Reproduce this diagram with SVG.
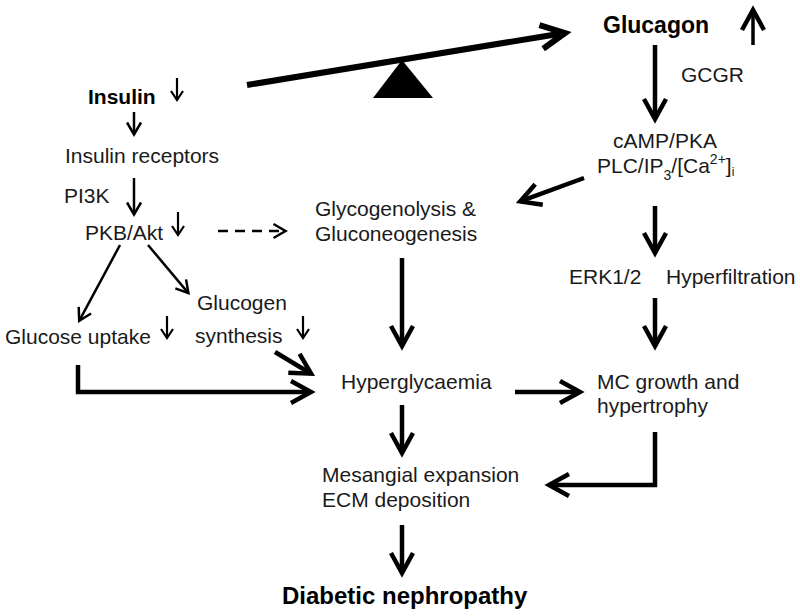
<svg xmlns="http://www.w3.org/2000/svg" width="800" height="616" viewBox="0 0 800 616">
<style>
text{font-family:"Liberation Sans",Arial,Helvetica,sans-serif;font-size:21px;fill:#1a1a1a}
.b{font-weight:bold;fill:#000}
.thick{stroke:#000;stroke-width:4.5;fill:none;marker-end:url(#aBig)}
.med{stroke:#000;stroke-width:2.5;fill:none;marker-end:url(#aMed)}
.thin{stroke:#000;stroke-width:2.2;fill:none;marker-end:url(#aSm)}
</style>
<defs>
<marker id="aBig" markerUnits="userSpaceOnUse" viewBox="-30 -20 40 40" markerWidth="40" markerHeight="40" refX="0" refY="0" orient="auto">
<path d="M-20,-11 L0,0 L-20,11" fill="none" stroke="#000" stroke-width="4.5" stroke-linejoin="miter" stroke-miterlimit="10"/>
</marker>
<marker id="aMed" markerUnits="userSpaceOnUse" viewBox="-20 -15 30 30" markerWidth="30" markerHeight="30" refX="0" refY="0" orient="auto">
<path d="M-12,-7 L0,0 L-12,7" fill="none" stroke="#000" stroke-width="2.5" stroke-linejoin="miter" stroke-miterlimit="10"/>
</marker>
<marker id="aSm" markerUnits="userSpaceOnUse" viewBox="-20 -15 30 30" markerWidth="30" markerHeight="30" refX="0" refY="0" orient="auto">
<path d="M-9,-6 L0,0 L-9,6" fill="none" stroke="#000" stroke-width="2.2" stroke-linejoin="miter" stroke-miterlimit="10"/>
</marker>
</defs>
<rect width="800" height="616" fill="#fff"/>

<g id="seesaw">
<line x1="247" y1="85" x2="563" y2="33.2" stroke="#000" stroke-width="6"/>
<polyline points="539.4,25.1 565,33 543.2,48.7" fill="none" stroke="#000" stroke-width="6" stroke-miterlimit="10"/>
<polygon points="402,60 373,98 433,98" fill="#000"/>
</g>

<g id="insulin"><text class="b" x="88" y="104">Insulin</text></g>
<g id="glucagon"><text class="b" x="603" y="33" style="font-size:23px">Glucagon</text></g>
<g id="gcgr"><text x="681" y="82">GCGR</text></g>
<g id="insulin-receptors"><text x="65" y="163">Insulin receptors</text></g>
<g id="pi3k"><text x="64" y="203">PI3K</text></g>
<g id="pkb-akt"><text x="85" y="240">PKB/Akt</text></g>
<g id="glycogenolysis"><text x="315" y="216">Glycogenolysis &amp;</text><text x="315" y="241">Gluconeogenesis</text></g>
<g id="camp"><text x="665" y="148" text-anchor="middle">cAMP/PKA</text><text x="597" y="173">PLC/IP<tspan style="font-size:14px" dy="7">3</tspan><tspan dy="-7">/[Ca</tspan><tspan style="font-size:14px" dy="-9">2+</tspan><tspan dy="9">]</tspan><tspan style="font-size:12px" dy="3">i</tspan></text></g>
<g id="erk"><text x="569" y="284">ERK1/2</text></g>
<g id="hyperfiltration"><text x="666" y="284">Hyperfiltration</text></g>
<g id="glucose-uptake"><text x="5" y="344">Glucose uptake</text></g>
<g id="glucogen-synthesis"><text x="197" y="310">Glucogen</text><text x="195" y="343">synthesis</text></g>
<g id="hyperglycaemia"><text x="341" y="389">Hyperglycaemia</text></g>
<g id="mc-growth"><text x="597" y="389">MC growth and</text><text x="597" y="413">hypertrophy</text></g>
<g id="mesangial"><text x="322" y="482">Mesangial expansion</text><text x="322" y="507">ECM deposition</text></g>
<g id="diabetic-nephropathy"><text class="b" x="282" y="604" style="font-size:24px">Diabetic nephropathy</text></g>

<g id="connectors">
<line class="thick" x1="655" y1="45" x2="655" y2="119"/>
<line class="thick" x1="753" y1="45" x2="753" y2="10" style="stroke-width:3.5"/>
<line class="thick" x1="584" y1="178" x2="520.2" y2="201.4"/>
<line class="thick" x1="655" y1="206" x2="655" y2="253"/>
<line class="thick" x1="655" y1="298" x2="655" y2="346"/>
<line class="thick" x1="402" y1="258" x2="402" y2="346"/>
<line class="thick" x1="515" y1="392" x2="580" y2="392"/>
<path class="thick" d="M655,432 V485 H549"/>
<line class="thick" x1="402" y1="405" x2="402" y2="453"/>
<line class="thick" x1="402" y1="525" x2="402" y2="573"/>
<line class="thick" x1="275" y1="352" x2="311.1" y2="373.7"/>
<path class="thick" d="M78,365 V392 H311"/>
<line class="med" x1="134" y1="112" x2="134" y2="134.5"/>
<line class="med" x1="134" y1="178" x2="134" y2="214.5"/>
<line class="med" x1="120" y1="245" x2="79.2" y2="320.8"/>
<line class="med" x1="148" y1="245" x2="188.4" y2="293.1"/>
<line class="med" x1="218" y1="231" x2="285.5" y2="231" stroke-dasharray="10,7"/>
<line class="thin" x1="177" y1="78" x2="177" y2="100"/>
<line class="thin" x1="178" y1="212" x2="178" y2="235"/>
<line class="thin" x1="167" y1="316" x2="167" y2="338"/>
<line class="thin" x1="303" y1="316" x2="303" y2="338"/>
</g>
</svg>
